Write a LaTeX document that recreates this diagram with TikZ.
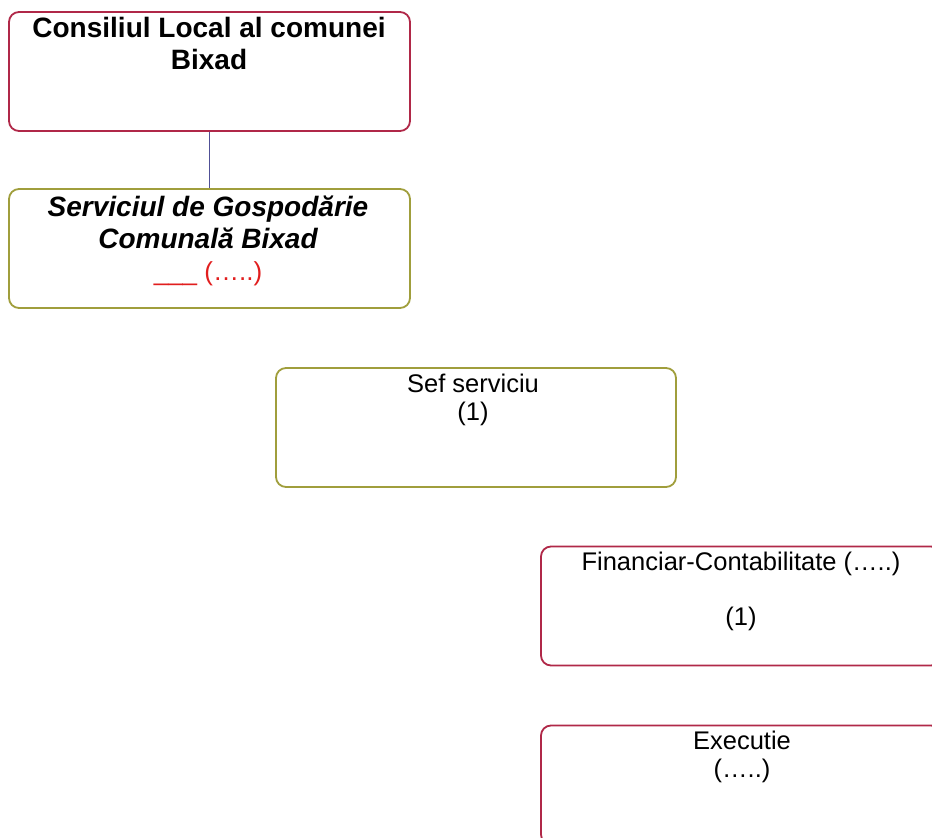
\documentclass[tikz,border=0pt]{standalone}
\usepackage{fontspec}
\setmainfont{Liberation Sans}
\definecolor{crim}{RGB}{176,40,72}
\definecolor{oliv}{RGB}{160,158,60}
\definecolor{conn}{RGB}{80,80,150}
\definecolor{redtxt}{RGB}{225,30,30}
\tikzset{
  box/.style={draw, line width=1.8pt, rounded corners=10pt, inner sep=0pt},
  redbox/.style={box, draw=crim},
  olbox/.style={box, draw=oliv},
  title/.style={anchor=north, inner sep=0pt, align=center, font=\fontsize{28}{32}\selectfont\bfseries},
  plain/.style={anchor=north, inner sep=0pt, align=center, font=\fontsize{25.5}{28}\selectfont},
}
\begin{document}
\begin{tikzpicture}[x=1pt,y=-1pt]
\useasboundingbox (0,0) rectangle (932,838);
\clip (0,0) rectangle (932,838);
\node[redbox, minimum width=401pt, minimum height=119pt] (cl) at (209.5,71.5) {};
\node[olbox, minimum width=401pt, minimum height=119pt] (sg) at (209.5,248.5) {};
\node[olbox, minimum width=400pt, minimum height=119pt] (ss) at (476,427.5) {};
\node[redbox, minimum width=400pt, minimum height=119pt] (fc) at (741,606) {};
\node[redbox, minimum width=400pt, minimum height=119pt] (ex) at (741,785) {};
\draw[conn, line width=1.3pt] (cl.south) -- (sg.north);
\node[title] (clt) at (209,17) {Consiliul Local al comunei\\Bixad};
\node[title, font=\fontsize{28}{32}\selectfont\bfseries\itshape] (sgt) at (208,196) {Serviciul de Gospodărie\\Comunală Bixad\\\textcolor{redtxt}{\mdseries\upshape\fontsize{26}{28}\selectfont\_\_\_ (…..)}};
\node[plain] (sst) at (473,374) {Sef serviciu\\(1)};
\node[plain] (fct) at (741,552) {Financiar-Contabilitate (…..)\\[27pt](1)};
\node[plain] (ext) at (742,731) {Executie\\(…..)};
\end{tikzpicture}
\end{document}
